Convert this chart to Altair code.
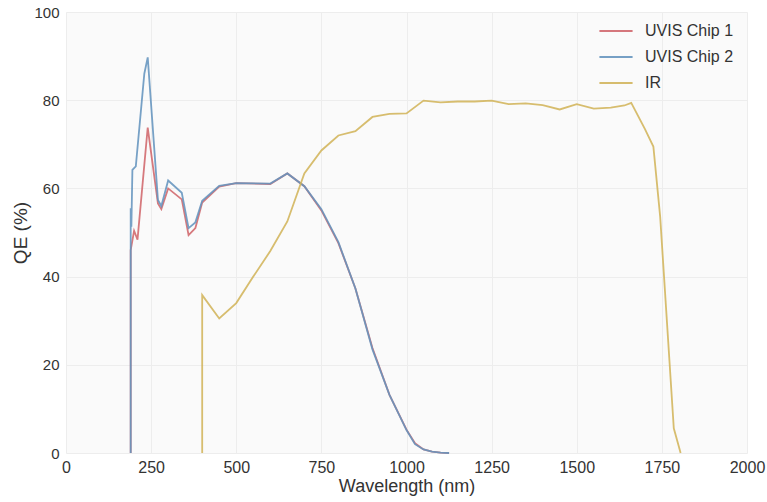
import altair as alt
import pandas as pd

chip1_wl = [190, 190, 200, 210, 240, 270, 280, 300, 340, 360, 380, 400, 450, 500, 600, 650, 700, 750, 800, 850, 900, 950, 1000, 1025, 1050, 1075, 1100, 1125]
chip1_qe = [0, 46, 50.4, 48.4, 73.8, 56.6, 55.3, 60.0, 57.5, 49.4, 51.0, 56.8, 60.4, 61.2, 61.0, 63.4, 60.5, 55.0, 47.6, 37.3, 23.8, 13.2, 5.3, 2.2, 0.8, 0.3, 0.1, 0]

chip2_wl = [190, 190, 192, 195, 205, 230, 240, 270, 280, 300, 340, 360, 380, 400, 450, 500, 600, 650, 700, 750, 800, 850, 900, 950, 1000, 1025, 1050, 1075, 1100, 1125]
chip2_qe = [0, 55.5, 51.3, 64.2, 65.0, 86.0, 89.7, 57.4, 56.0, 61.8, 59.0, 51.0, 52.3, 57.2, 60.6, 61.2, 61.1, 63.4, 60.5, 55.3, 47.8, 37.3, 23.5, 13.2, 5.2, 2.0, 0.8, 0.3, 0.1, 0]

ir_wl = [400, 400, 450, 500, 550, 600, 650, 700, 750, 800, 850, 900, 950, 1000, 1050, 1100, 1150, 1200, 1250, 1300, 1350, 1400, 1450, 1500, 1550, 1600, 1640, 1660, 1700, 1725, 1745, 1785, 1800, 1805]
ir_qe = [0, 35.8, 30.5, 34.0, 40.0, 45.8, 52.5, 63.4, 68.6, 72.0, 73.0, 76.2, 76.9, 77.0, 79.9, 79.5, 79.7, 79.7, 79.9, 79.1, 79.3, 78.9, 77.9, 79.1, 78.1, 78.3, 78.8, 79.4, 73.5, 69.5, 53.6, 5.6, 1.4, 0]

x_ticks = [0, 250, 500, 750, 1000, 1250, 1500, 1750, 2000]
y_ticks = [0, 20, 40, 60, 80, 100]

series_names = ["UVIS Chip 1", "UVIS Chip 2", "IR"]
series_colors = ["#d0666b", "#6494be", "#d2b45a"]

rows = []
for name, wl, qe in zip(series_names, [chip1_wl, chip2_wl, ir_wl], [chip1_qe, chip2_qe, ir_qe]):
    for i, (w, q) in enumerate(zip(wl, qe)):
        rows.append({"series": name, "wl": w, "qe": q, "i": i})
df = pd.DataFrame(rows)

chart = alt.Chart(df).mark_line(strokeWidth=1.8, opacity=0.88).encode(
    x=alt.X("wl:Q", title="Wavelength (nm)",
            scale=alt.Scale(domain=[0, 2000], nice=False, zero=False),
            axis=alt.Axis(values=x_ticks, format="d", labelFontSize=16, labelFlush=False,
                          titleFontSize=18, labelPadding=6, titlePadding=2)),
    y=alt.Y("qe:Q", title="QE (%)",
            scale=alt.Scale(domain=[0, 100], nice=False),
            axis=alt.Axis(values=y_ticks, format="d", labelFontSize=15, labelFlush=False,
                          titleFontSize=19, labelPadding=7, titlePadding=3)),
    color=alt.Color("series:N",
                    scale=alt.Scale(domain=series_names, range=series_colors),
                    legend=alt.Legend(title=None, orient="none", legendX=532, legendY=1,
                                      symbolType="stroke", symbolSize=1100,
                                      symbolStrokeWidth=2, labelFontSize=16,
                                      labelOffset=11, padding=0, rowPadding=-4)),
    order="i:Q",
).properties(
    width=681, height=441,
    autosize=alt.AutoSizeParams(type="none"),
    padding={"left": 66, "top": 12, "right": 20, "bottom": 49},
).configure_view(
    fill="#fafafa", stroke=None
).configure_axis(
    domain=False, ticks=False, grid=True, gridColor="#ededed", gridWidth=1,
    labelFont="Liberation Sans", titleFont="Liberation Sans",
    labelColor="#333333", titleColor="#333333",
    titleFontWeight="normal"
).configure_legend(
    labelFont="Liberation Sans", labelColor="#333333"
)

chart.save("out.html", embed_options={"renderer": "svg", "actions": False})
